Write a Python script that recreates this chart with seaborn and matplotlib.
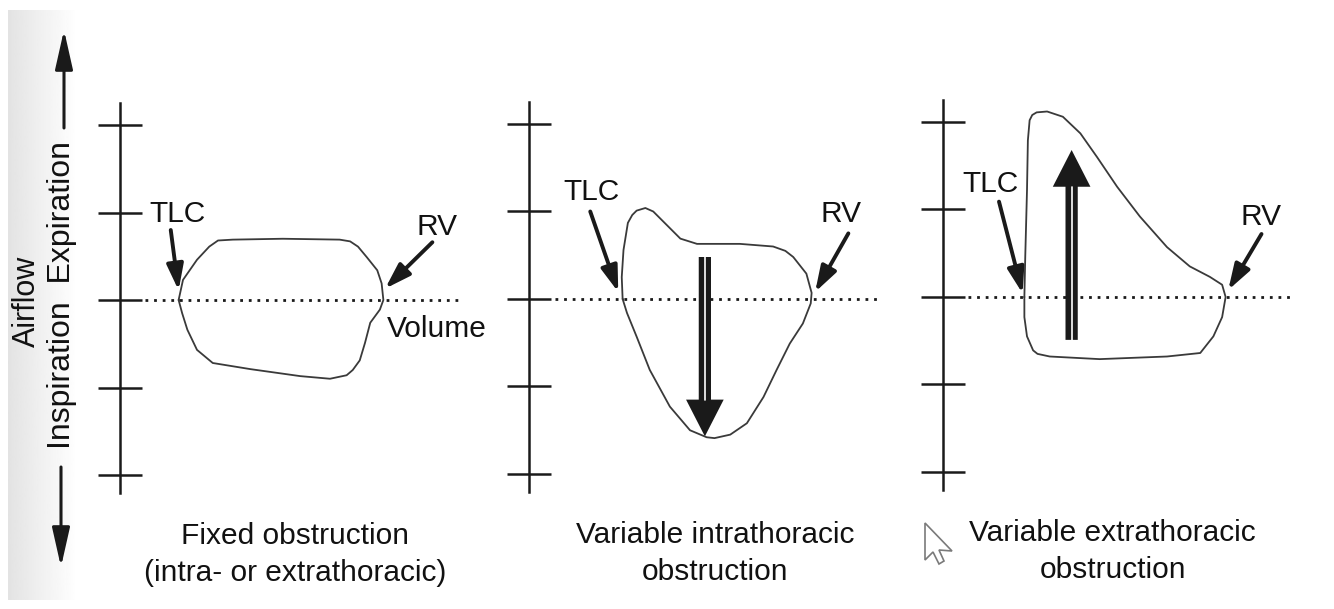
import numpy as np
import matplotlib.pyplot as plt
import seaborn as sns
from matplotlib.patches import Polygon

sns.set_theme(style="white")
plt.rcParams['font.family'] = ['Liberation Sans', 'DejaVu Sans']

# ---- data (volume / flow in tick-step units) ----
flow_ticks = [-2, -1, 0, 1, 2]

loop1_volume = [0.67, 0.72, 0.88, 1.02, 1.12, 1.29, 1.86, 2.51, 2.63, 2.72, 2.82, 2.94, 2.99, 3.01,
                2.97, 2.86, 2.80, 2.74, 2.66, 2.59, 2.40, 2.06, 1.49, 1.06, 0.88, 0.77, 0.71]
loop1_flow = [0.00, 0.23, 0.46, 0.61, 0.68, 0.69, 0.70, 0.69, 0.67, 0.61, 0.49, 0.34, 0.19, 0.00,
              -0.11, -0.26, -0.49, -0.69, -0.80, -0.86, -0.90, -0.87, -0.79, -0.72, -0.57, -0.34, -0.15]

loop2_volume = [1.07, 1.06, 1.08, 1.13, 1.18, 1.23, 1.33, 1.42, 1.57, 1.73, 1.92, 2.41, 2.79, 2.93, 3.02, 3.17,
                3.23, 3.22, 3.13, 2.98, 2.83, 2.68, 2.49, 2.30, 2.12, 2.03, 1.84, 1.61, 1.38, 1.23, 1.12]
loop2_flow = [0.00, 0.25, 0.56, 0.87, 0.96, 1.01, 1.04, 1.00, 0.85, 0.69, 0.63, 0.63, 0.60, 0.55, 0.48, 0.29,
              0.07, -0.05, -0.28, -0.51, -0.81, -1.12, -1.42, -1.55, -1.59, -1.58, -1.50, -1.23, -0.81, -0.43, -0.16]

loop3_volume = [0.93, 0.94, 0.96, 0.97, 0.99, 1.02, 1.07, 1.19, 1.37, 1.57, 1.76, 1.99, 2.25, 2.56, 2.82,
                3.05, 3.19, 3.23, 3.19, 3.09, 2.94, 2.56, 1.79, 1.22, 1.08, 1.03, 0.96, 0.93]
loop3_flow = [0.00, 0.46, 1.22, 1.79, 2.02, 2.08, 2.11, 2.12, 2.06, 1.87, 1.60, 1.26, 0.92, 0.57, 0.35,
              0.23, 0.14, 0.00, -0.23, -0.45, -0.64, -0.68, -0.71, -0.68, -0.65, -0.61, -0.45, -0.23]

loops = [(loop1_volume, loop1_flow), (loop2_volume, loop2_flow), (loop3_volume, loop3_flow)]

captions = [["Fixed obstruction", "(intra- or extrathoracic)"],
            ["Variable intrathoracic", "obstruction"],
            ["Variable extrathoracic", "obstruction"]]
caption_x = [2.0, 2.13, 1.94]
caption_baselines = [-2.79, -3.21]

# label positions / pointer arrows (tail -> tip)
tlc_text = [(0.66, 0.89), (0.72, 1.13), (0.54, 1.20)]
tlc_tail = [(0.58, 0.80), (0.70, 1.00), (0.64, 1.09)]
tlc_tip = [(0.67, 0.11), (1.02, 0.08), (0.91, 0.04)]
rv_text = [(3.62, 0.74), (3.57, 0.88), (3.63, 0.82)]
rv_tail = [(3.57, 0.66), (3.65, 0.75), (3.64, 0.72)]
rv_tip = [(3.03, 0.13), (3.27, 0.08), (3.26, 0.08)]
volume_text = (3.05, -0.42)
dotted_span = [(0.29, 3.91), (0.30, 3.98), (0.29, 3.98)]

# big direction arrows (panels 2 and 3)
big_arrow_x = [None, 2.01, 1.47]
big_arrow_base = [None, 0.48, -0.49]
big_arrow_tip = [None, -1.57, 1.68]

# ---- layout (pixels) ----
W, H = 1334, 609
UNIT = 87.5
X_LIM = (-0.5, 4.1)
Y_LIM = (-2.2, 2.25)
origins = [(120, 300), (529, 299), (943, 297)]

fig = plt.figure(figsize=(W / 100, H / 100), dpi=100)
fig.patch.set_facecolor('white')

# background axes in pixel coordinates: scan shading, side labels, cursor
bg = fig.add_axes([0, 0, 1, 1])
bg.set_zorder(-1)
shade = np.linspace(0.89, 1.0, 64)[None, :]
bg.imshow(shade, cmap='gray', vmin=0, vmax=1, extent=[8, 78, 600, 10],
          aspect='auto', interpolation='bilinear')
bg.set_xlim(0, W)
bg.set_ylim(H, 0)
bg.axis('off')

bg.text(35, 301, "Airflow", rotation=90, rotation_mode='anchor',
        ha='center', va='baseline', fontsize=22, color='#111')
bg.text(70, 295, "Inspiration  Expiration", rotation=90, rotation_mode='anchor',
        ha='center', va='baseline', fontsize=23, color='#111')
side_arrow = dict(arrowstyle='-|>,head_length=2.0,head_width=0.45', lw=2.2,
                  color='k', shrinkA=0, shrinkB=0)
bg.annotate('', xy=(64, 30), xytext=(64, 128), arrowprops=side_arrow)
bg.annotate('', xy=(61, 567), xytext=(61, 467), arrowprops=side_arrow)

cursor_shape = np.array([(0, 0), (0, 37), (8, 29), (14, 41), (19, 38), (14, 27), (27, 28)])
bg.add_patch(Polygon(cursor_shape + [925, 523], closed=True, fc='white', ec='#7a7a7a', lw=1.2))

pointer = dict(arrowstyle='-|>,head_length=1.3,head_width=0.42', lw=2.8,
               color='k', shrinkA=0, shrinkB=0)

for i, (ox, oy) in enumerate(origins):
    left = (ox + X_LIM[0] * UNIT) / W
    bottom = (H - (oy - Y_LIM[0] * UNIT)) / H
    ax = fig.add_axes([left, bottom, (X_LIM[1] - X_LIM[0]) * UNIT / W,
                       (Y_LIM[1] - Y_LIM[0]) * UNIT / H])
    ax.set_facecolor('none')

    vol, flow = loops[i]
    sns.lineplot(x=vol + vol[:1], y=flow + flow[:1], sort=False, estimator=None,
                 color='#3a3a3a', lw=1.3, ax=ax)
    ax.plot(dotted_span[i], [0, 0], color='k', lw=2.0, linestyle=(0, (1, 2.1)))

    ax.text(*tlc_text[i], "TLC", ha='center', va='baseline', fontsize=21.5, color='#111')
    ax.text(*rv_text[i], "RV", ha='center', va='baseline', fontsize=21.5, color='#111')
    ax.annotate('', xy=tlc_tip[i], xytext=tlc_tail[i], arrowprops=pointer)
    ax.annotate('', xy=rv_tip[i], xytext=rv_tail[i], arrowprops=pointer)
    if i == 0:
        ax.text(*volume_text, "Volume", ha='left', va='baseline', fontsize=21.5, color='#111')

    if big_arrow_x[i] is not None:
        x, b, t = big_arrow_x[i], big_arrow_base[i], big_arrow_tip[i]
        ax.arrow(x, b, 0, t - b, width=0.14, head_width=0.43, head_length=0.42,
                 length_includes_head=True, fc='k', ec='k', lw=0)
        ax.plot([x, x], [b, t - np.sign(t - b) * 0.42], color='white', lw=1.2)

    for line, yb in zip(captions[i], caption_baselines):
        ax.text(caption_x[i], yb, line, ha='center', va='baseline', fontsize=21.5,
                color='#111', clip_on=False)

    for s in ['top', 'right', 'bottom']:
        ax.spines[s].set_visible(False)
    ax.spines['left'].set_position(('data', 0))
    ax.spines['left'].set_linewidth(1.8)
    ax.spines['left'].set_color('k')
    ax.set_yticks(flow_ticks)
    ax.set_yticklabels([])
    ax.set_xticks([])
    ax.tick_params(axis='y', direction='inout', length=31, width=1.8, color='k', left=True)
    ax.set_xlabel('')
    ax.set_ylabel('')
    ax.set_xlim(*X_LIM)
    ax.set_ylim(*Y_LIM)

fig.savefig('out.png', dpi=100)
